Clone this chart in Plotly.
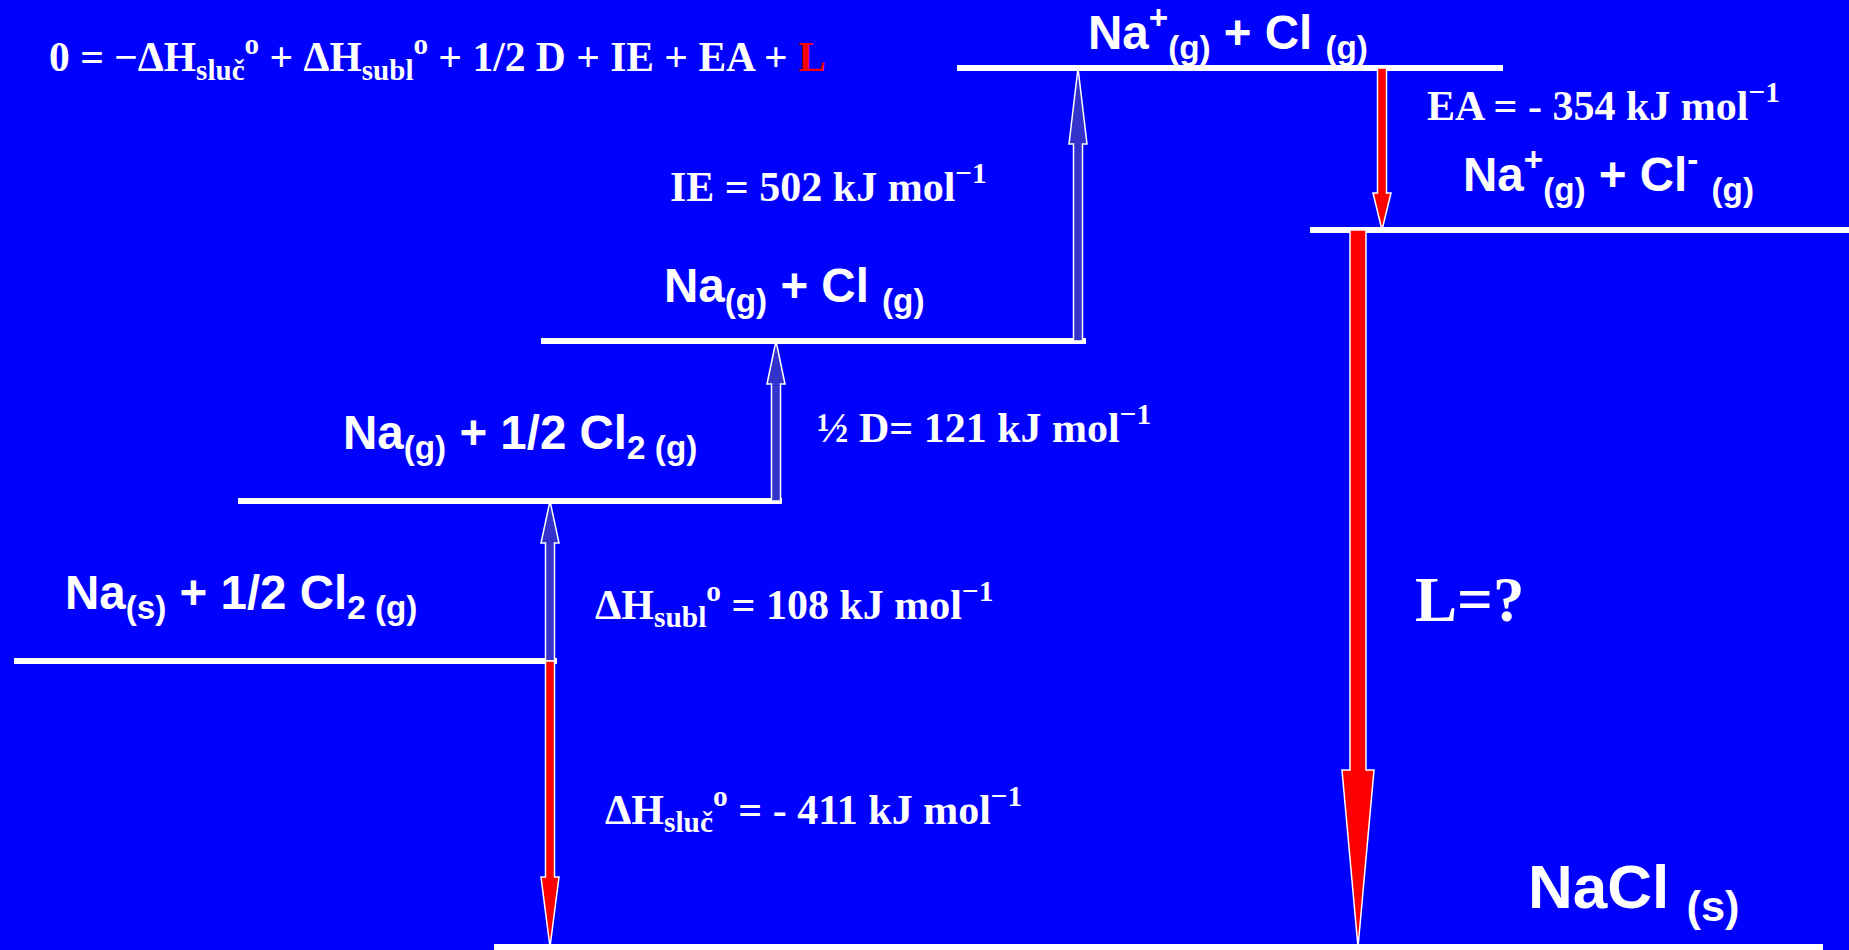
import plotly.graph_objects as go

W, H = 1849, 950
BG = "#0000ff"
SERIF = "Liberation Serif, Times New Roman, serif"
SANS = "Liberation Sans, Arial, sans-serif"

# Born-Haber cycle levels (schematic, not to scale) - drawn height in diagram px
level_labels = [
    "Na<sub>(s)</sub> + 1/2 Cl<sub>2 (g)</sub>",
    "Na<sub>(g)</sub> + 1/2 Cl<sub>2 (g)</sub>",
    "Na<sub>(g)</sub> + Cl <sub>(g)</sub>",
    "Na<sup>+</sup><sub>(g)</sub> + Cl <sub>(g)</sub>",
    "Na<sup>+</sup><sub>(g)</sub> + Cl<sup>-</sup> <sub>(g)</sub>",
    "NaCl <sub>(s)</sub>",
]
level_y = [661, 501, 341, 68, 230, 947]
level_x0 = [14, 238, 541, 957, 1310, 494]
level_x1 = [557, 782, 1086, 1503, 1849, 1823]

# steps of the cycle, kJ/mol
step_names = ["ΔH<sub>subl</sub><sup>o</sup>", "½ D", "IE", "EA", "L", "ΔH<sub>sluč</sub><sup>o</sup>"]
step_values = [108, 121, 502, -354, None, -411]
step_from = [0, 1, 2, 3, 4, 0]
step_to = [1, 2, 3, 4, 5, 5]
step_x = [550, 776, 1078, 1382, 1358, 550]


def arrow_poly(x, y0, y1, shaft, head, head_len):
    d = 1 if y1 > y0 else -1
    yb = y1 - d * head_len
    s, h = shaft / 2, head / 2
    xs = [x - s, x - s, x - h, x, x + h, x + s, x + s, x - s]
    ys = [y0, yb, yb, y1, yb, yb, y0, y0]
    return xs, ys


fig = go.Figure()

# level lines
for i in range(len(level_y)):
    fig.add_trace(go.Scatter(
        x=[level_x0[i], level_x1[i]], y=[level_y[i], level_y[i]],
        mode="lines", line=dict(color="white", width=6), hoverinfo="skip"))

# arrows
arrow_style = {
    0: dict(shaft=9, head=18, head_len=42),
    1: dict(shaft=9, head=18, head_len=43),
    2: dict(shaft=9, head=18, head_len=76),
    3: dict(shaft=9, head=18, head_len=37),
    4: dict(shaft=16, head=32, head_len=177),
    5: dict(shaft=9, head=18, head_len=70),
}
for i in range(len(step_names)):
    y0 = level_y[step_from[i]]
    y1 = level_y[step_to[i]]
    xs, ys = arrow_poly(step_x[i], y0, y1, **arrow_style[i])
    color = "#3333cc" if y1 < y0 else "#ff0000"
    fig.add_trace(go.Scatter(
        x=xs, y=ys, mode="lines", fill="toself", fillcolor=color,
        line=dict(color="white", width=1.5), hoverinfo="skip"))

annotations = []


def label(text, x, y, size, family, color="white"):
    annotations.append(dict(
        text=text, x=x, y=y, xref="x", yref="y", xanchor="left", yanchor="middle",
        showarrow=False, font=dict(family=family, size=size, color=color)))


# species labels
species_pos = [(63, 596), (341, 436), (662, 289), (1086, 32), (1461, 174), (1526, 891)]
for i, (x, y) in enumerate(species_pos):
    size = 62 if i == 5 else 47.5
    label("<b>" + level_labels[i] + "</b>", x, y, size, SANS)

# step labels
def kj(v):
    return f"{v} kJ mol<sup>−1</sup>" if v >= 0 else f"- {abs(v)} kJ mol<sup>−1</sup>"


step_pos = [(593, 604), (815, 424), (668, 183), (1425, 102), (1413, 600), (603, 809)]
for i, (x, y) in enumerate(step_pos):
    if step_values[i] is None:
        txt = step_names[i] + "=?"
        size = 63
    elif step_names[i] == "½ D":
        txt = step_names[i] + "= " + kj(step_values[i])
        size = 42
    else:
        txt = step_names[i] + " = " + kj(step_values[i])
        size = 42
    label("<b>" + txt + "</b>", x, y, size, SERIF)

# cycle equation
eq = ("<b>0 = −ΔH<sub>sluč</sub><sup>o</sup> + ΔH<sub>subl</sub><sup>o</sup> + 1/2 D + IE + EA + "
      "<span style='color:#ff0000'>L</span></b>")
label(eq, 47, 57, 41.5, SERIF)

fig.update_layout(
    width=W, height=H,
    margin=dict(l=0, r=0, t=0, b=0),
    paper_bgcolor=BG, plot_bgcolor=BG,
    showlegend=False,
    xaxis=dict(range=[0, W], visible=False, fixedrange=True),
    yaxis=dict(range=[H, 0], visible=False, fixedrange=True),
    annotations=annotations,
)

fig.write_html("out.html", config={"displayModeBar": False},
               post_script="document.body.style.margin='0';document.body.style.background='#0000ff';")
